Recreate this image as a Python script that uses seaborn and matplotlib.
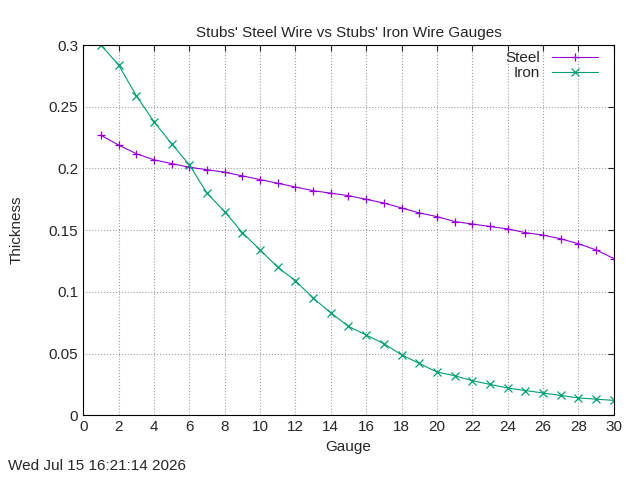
import pandas as pd
import seaborn as sns
import matplotlib.pyplot as plt

gauge = list(range(1, 31))
steel = [.227, .219, .212, .207, .204, .201, .199, .197, .194, .191, .188, .185, .182, .180, .178,
         .175, .172, .168, .164, .161, .157, .155, .153, .151, .148, .146, .143, .139, .134, .127]
iron = [.300, .284, .259, .238, .220, .203, .180, .165, .148, .134, .120, .109, .095, .083, .072,
        .065, .058, .049, .042, .035, .032, .028, .025, .022, .020, .018, .016, .014, .013, .012]

df = pd.DataFrame({'Gauge': gauge * 2, 'Thickness': steel + iron,
                   'Wire': ['Steel'] * 30 + ['Iron'] * 30})

sns.set_style('white')
plt.rcParams['font.family'] = ['Liberation Sans', 'DejaVu Sans']
fig = plt.figure(figsize=(6.4, 4.8), dpi=100)
ax = fig.add_axes([0.13, 0.135, 0.829, 0.771])

palette = {'Steel': '#9400d3', 'Iron': '#009e73'}
markers = {'Steel': '+', 'Iron': 'x'}
for name in ['Steel', 'Iron']:
    sub = df[df['Wire'] == name]
    sns.lineplot(data=sub, x='Gauge', y='Thickness', ax=ax, color=palette[name],
                 marker=markers[name], markersize=6, markeredgecolor=palette[name],
                 markeredgewidth=0.9, linewidth=0.8, label=name)

ax.set_xlim(0, 30)
ax.set_ylim(0, 0.3)
ax.set_xticks(range(0, 31, 2))
ax.set_yticks([0, 0.05, 0.1, 0.15, 0.2, 0.25, 0.3])
ax.set_yticklabels(['0', '0.05', '0.1', '0.15', '0.2', '0.25', '0.3'])
ax.grid(True, linestyle=':', color='#a0a0a0', linewidth=0.8)
for s in ax.spines.values():
    s.set_color('black')
    s.set_linewidth(0.8)
ax.tick_params(direction='in', length=4, labelsize=11, top=True, right=True)
ax.set_xlabel('Gauge', fontsize=11)
ax.set_ylabel('Thickness', fontsize=11, labelpad=18)
ax.set_title("Stubs' Steel Wire vs Stubs' Iron Wire Gauges", fontsize=11)
leg = ax.legend(loc='upper right', frameon=False, markerfirst=False, fontsize=11,
                handlelength=3, borderaxespad=0.1, labelspacing=0.1,
                bbox_to_anchor=(0.985, 1.005))
for t in leg.get_texts():
    t.set_ha('right')
fig.text(0.012, 0.02, 'Wed Jul 15 16:21:14 2026', fontsize=11)
fig.savefig('out.png', dpi=100)
